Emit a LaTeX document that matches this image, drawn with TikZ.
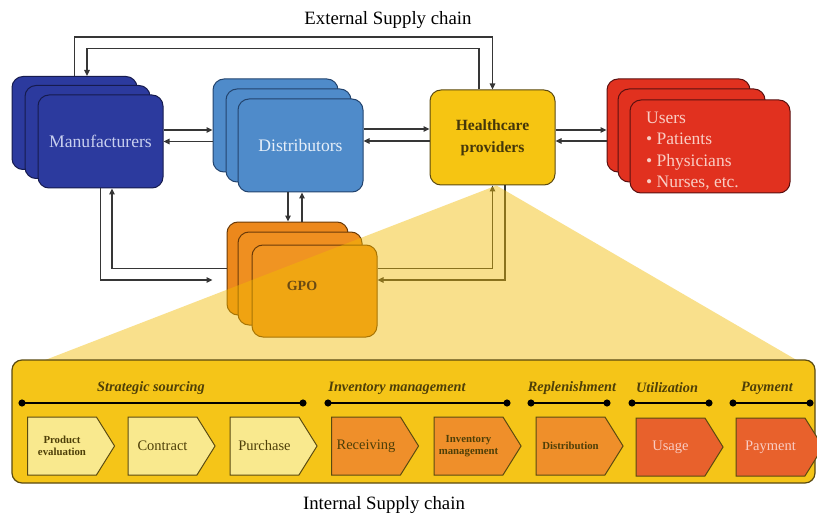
\documentclass[tikz,border=0pt]{standalone}
\usepackage{fontspec}
\setmainfont{Liberation Serif}
\usetikzlibrary{shapes.symbols,arrows.meta,calc}

\definecolor{manfill}{HTML}{2C3A9E}
\definecolor{manline}{HTML}{161B4E}
\definecolor{mantext}{HTML}{C9D0EF}
\definecolor{distfill}{HTML}{4F8BCA}
\definecolor{distline}{HTML}{23446E}
\definecolor{disttext}{HTML}{E6EFF9}
\definecolor{hcfill}{HTML}{F6C512}
\definecolor{hcline}{HTML}{5C4A10}
\definecolor{hctext}{HTML}{45370A}
\definecolor{userfill}{HTML}{E1311F}
\definecolor{userline}{HTML}{5A1010}
\definecolor{usertext}{HTML}{F9CDC4}
\definecolor{gpoA}{HTML}{EC881C}
\definecolor{gpoB}{HTML}{EF8F20}
\definecolor{gpoC}{HTML}{F09422}
\definecolor{gpoline}{HTML}{6A3A08}
\definecolor{gpotext}{HTML}{6A4A12}
\definecolor{wedgefill}{HTML}{F2BC00}
\definecolor{bandfill}{HTML}{F5C518}
\definecolor{bandline}{HTML}{5A4A10}
\definecolor{palechev}{HTML}{F9E98E}
\definecolor{orangechev}{HTML}{EF8F2A}
\definecolor{redchev}{HTML}{E8612C}
\definecolor{darkolive}{HTML}{4E3F08}
\definecolor{connline}{HTML}{363636}

\tikzset{
  card/.style={draw, rounded corners=11pt, line width=1pt, inner sep=0pt,
    minimum width=125pt, minimum height=93pt},
  conn/.style={draw=connline, line width=1.4pt,
    -{Triangle[length=6pt,width=5.5pt]}},
  phase/.style={line width=1.6pt, {Circle[length=7pt]}-{Circle[length=7pt]}},
  phlabel/.style={text=darkolive, font=\fontsize{14.3}{16}\selectfont\bfseries\itshape},
  chev/.style={shape=signal, signal to=east, signal pointer angle=116,
    draw=bandline, line width=1pt, minimum width=87pt, minimum height=58pt,
    inner sep=0pt, align=center},
  bigtxt/.style={font=\fontsize{14.5}{16}\selectfont},
  smalltxt/.style={font=\fontsize{10.8}{12.5}\selectfont\bfseries},
  title/.style={font=\fontsize{18.8}{21}\selectfont}
}

\begin{document}
\begin{tikzpicture}[x=1pt,y=-1pt]
\useasboundingbox[fill=white] (0,0) rectangle (817,516);

% titles
\node[title] (ext) at (388,20) {External Supply chain};
\node[title] (int) at (384,505) {Internal Supply chain};

% manufacturers stack
\node[card, fill=manfill, draw=manline] (manA) at (74.5,123) {};
\node[card, fill=manfill, draw=manline] (manB) at (87.5,132) {};
\node[card, fill=manfill, draw=manline, text=mantext,
  font=\fontsize{17.6}{19}\selectfont] (manC) at (100.5,141.5) {Manufacturers};

% distributors stack
\node[card, fill=distfill, draw=distline] (distA) at (275.5,125.5) {};
\node[card, fill=distfill, draw=distline] (distB) at (288.5,135.5) {};
\node[card, fill=distfill, draw=distline, text=disttext,
  font=\fontsize{17.6}{19}\selectfont] (distC) at (300.5,145.5) {Distributors};

% healthcare providers
\node[card, fill=hcfill, draw=hcline, text=hctext, minimum height=95pt,
  align=center, font=\fontsize{15.6}{22}\selectfont\bfseries] (hc) at (492.5,137.5)
  {Healthcare\\providers};

% users stack
\node[card, fill=userfill, draw=userline, minimum width=143pt] (userA) at (678.5,125.5) {};
\node[card, fill=userfill, draw=userline, minimum width=147pt] (userB) at (691.5,135.5) {};
\node[card, fill=userfill, draw=userline, minimum width=160pt] (userC) at (710,146.5) {};
\node[anchor=west, align=left, text=usertext, inner sep=0pt,
  font=\fontsize{17.5}{21.3}\selectfont] (usertxt) at (646,151)
  {Users\\\textbullet\ Patients\\\textbullet\ Physicians\\\textbullet\ Nurses, etc.};

% GPO stack
\node[card, fill=gpoA, draw=gpoline, minimum width=121pt] (gpoA) at (287.5,268.5) {};
\node[card, fill=gpoB, draw=gpoline, minimum width=124pt] (gpoB) at (300,278.5) {};
\node[card, fill=gpoC, draw=gpoline, minimum height=92pt] (gpoC) at (314.5,291) {};

% external connectors
\draw[conn] (manA.north) -- ++(0,-39) -| (hc.north);
\draw[conn] ([xshift=-13.5pt]hc.north) -- ++(0,-41) -| ([xshift=12.5pt]manA.north);

\coordinate (m1) at ($(manC.east)+(0,-11.5)$);
\draw[conn] (m1) -- (m1 -| distA.west);
\draw[conn] (manC.east -| distA.west) -- (manC.east);

\coordinate (d1) at ($(distC.east)+(0,-16.5)$);
\coordinate (d2) at ($(distC.east)+(0,-4.5)$);
\draw[conn] (d1) -- (d1 -| hc.west);
\draw[conn] (d2 -| hc.west) -- (d2);

\coordinate (h1) at ($(hc.east)+(0,-7.5)$);
\coordinate (h2) at ($(hc.east)+(0,3.5)$);
\draw[conn] (h1) -- (h1 -| userA.west);
\draw[conn] (h2 -| userA.west) -- (h2);

\coordinate (g1) at ($(distC.south)+(-12.5,0)$);
\coordinate (g2) at ($(distC.south)+(1.5,0)$);
\draw[conn] (g1) -- (g1 |- gpoA.north);
\draw[conn] (g2 |- gpoA.north) -- (g2);

\coordinate (g3) at ($(manC.south)+(11.5,0)$);
\draw[conn, shorten >=14pt] (manC.south) |- ($(gpoA.west)+(0,11.5)$);
\draw[conn] (gpoA.west) -| (g3);

\coordinate (g4) at ($(hc.south)+(12.5,0)$);
\coordinate (g5) at ($(gpoC.east)+(0,-11)$);
\draw[conn] (gpoC.east |- gpoA.west) -| (hc.south);
\draw[conn] (g4) |- (g5);

% zoom wedge from healthcare providers to the internal chain
\coordinate (apex) at ($(hc.south)+(4,0)$);
\fill[wedgefill, fill opacity=0.45] (apex) -- (40,362) -- (800,362) -- cycle;
\node[text=gpotext, font=\fontsize{14}{16}\selectfont\bfseries] (gpotxt) at (302,286) {GPO};

% internal supply chain band
\node[draw=bandline, fill=bandfill, rounded corners=10pt, line width=1.2pt,
  minimum width=803pt, minimum height=123pt, inner sep=0pt] (band) at (413.5,421.5) {};

% phases
\draw[phase] (18.5,403) -- (306.5,403);
\node[phlabel] (ph1) at (151,388) {Strategic sourcing};
\draw[phase] (324.5,403) -- (510.5,403);
\node[phlabel] (ph2) at (397,388) {Inventory management};
\draw[phase] (527.5,403) -- (610.5,403);
\node[phlabel] (ph3) at (572,388) {Replenishment};
\draw[phase] (628.5,403) -- (712.5,403);
\node[phlabel] (ph4) at (667,388) {Utilization};
\draw[phase] (729.5,403) -- (813.5,403);
\node[phlabel] (ph5) at (767,388) {Payment};

% process steps
\node[chev, fill=palechev, text=darkolive, smalltxt] (s1) at (62,446) {Product\\evaluation};
\node[chev, fill=palechev, text=darkolive, bigtxt] (s2) at (162.5,446) {Contract};
\node[chev, fill=palechev, text=darkolive, bigtxt] (s3) at (264.5,446) {Purchase};
\node[chev, fill=orangechev, text=darkolive, bigtxt] (s4) at (366,446) {Receiving};
\node[chev, fill=orangechev, text=darkolive, smalltxt] (s5) at (468.5,446) {Inventory\\management};
\node[chev, fill=orangechev, text=darkolive, smalltxt] (s6) at (570.5,446) {Distribution};
\node[chev, fill=redchev, text=usertext, bigtxt] (s7) at (670.5,447) {Usage};
\node[chev, fill=redchev, text=usertext, bigtxt] (s8) at (770.5,447) {Payment};
\end{tikzpicture}
\end{document}
